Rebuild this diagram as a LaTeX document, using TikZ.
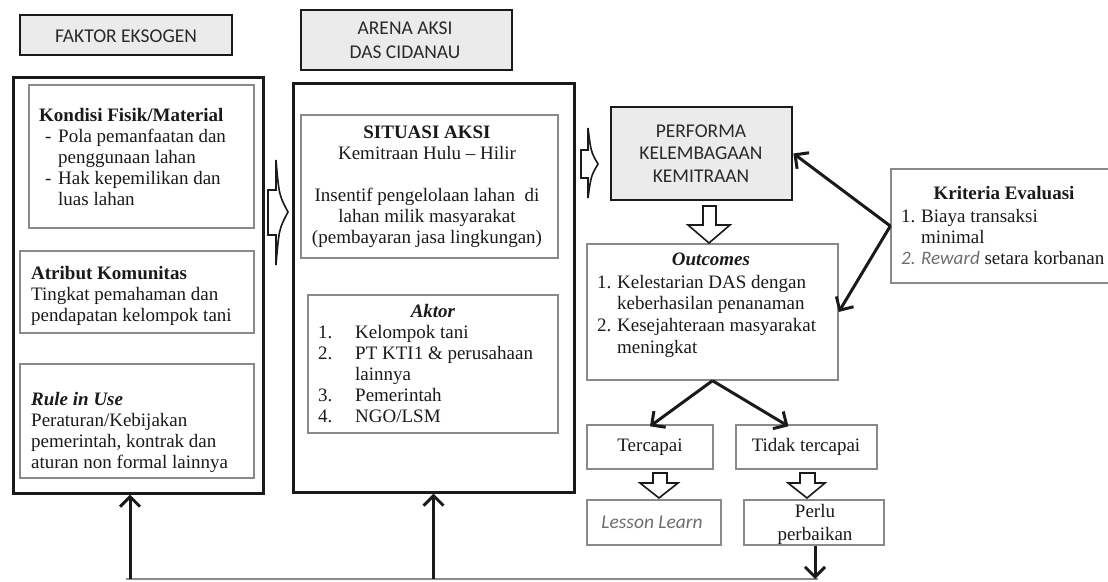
\documentclass[tikz,border=0pt]{standalone}
\usepackage{fontspec}
\setmainfont{Liberation Serif}
\newfontfamily\hdrfont{Carlito}
\usetikzlibrary{arrows.meta}
\definecolor{ink}{HTML}{1A1A1A}
\definecolor{hdrink}{HTML}{2A2A2A}
\definecolor{boxgray}{HTML}{8A8A8A}
\definecolor{hdrfill}{HTML}{EBEBEB}
\definecolor{softgray}{HTML}{6E6E6E}
\begin{document}
\begin{tikzpicture}[x=1pt,y=-1pt,
  outerbox/.style={draw=ink, line width=3pt, inner sep=0pt},
  innerbox/.style={draw=boxgray, line width=1.4pt, inner sep=0pt},
  hdrbox/.style={draw=ink, line width=2.8pt, fill=hdrfill, inner sep=0pt},
  flowbox/.style={draw=boxgray, line width=1.4pt, fill=white, inner sep=0pt},
  body/.style={font=\fontsize{19}{21}\selectfont, text=ink, inner sep=0pt, align=left, anchor=north west},
  bodyc/.style={font=\fontsize{19}{21}\selectfont, text=ink, inner sep=0pt, align=center},
  hdrtext/.style={font=\hdrfont\fontsize{19.5}{23.5}\selectfont, text=hdrink, align=center, inner sep=0pt},
  thk/.style={draw=ink, line width=3pt, -{Straight Barb[length=10pt,width=20pt]}},
  hollow/.style={draw=ink, line width=1.6pt, fill=white, line join=miter},
  fbline/.style={draw=boxgray, line width=1.2pt}]
\clip (0,0) rectangle (1108,581);
\fill[white] (0,0) rectangle (1108,581);

% ---------- headers ----------
\node[hdrbox, minimum width=212pt, minimum height=40pt] (hdrL) at (126,35) {};
\node[hdrtext] (hdrLT) at (126,36) {FAKTOR EKSOGEN};
\node[hdrbox, minimum width=211pt, minimum height=60pt] (hdrM) at (406.5,40) {};
\node[hdrtext] (hdrMT) at (405,40) {ARENA AKSI\\DAS CIDANAU};

% ---------- left column ----------
\node[outerbox, minimum width=250pt, minimum height=416pt] (outerL) at (138,285) {};
\node[innerbox, minimum width=225pt, minimum height=143pt] (kondisi) at (141.5,156.5) {};
\node[body] (kondisiT) at (39,108) {\textbf{Kondisi Fisik/Material}\\
\makebox[19pt][l]{\hspace{6pt}-}Pola pemanfaatan dan\\
\hspace*{19pt}penggunaan lahan\\
\makebox[19pt][l]{\hspace{6pt}-}Hak kepemilikan dan\\
\hspace*{19pt}luas lahan};
\node[innerbox, minimum width=234pt, minimum height=82pt] (atribut) at (137,292) {};
\node[body] (atributT) at (31,266) {\textbf{Atribut Komunitas}\\
Tingkat pemahaman dan\\
pendapatan kelompok tani};
\node[innerbox, minimum width=234pt, minimum height=114pt] (rule) at (137,421) {};
\node[body] (ruleT) at (31,392) {\textbf{\textit{Rule in Use}}\\
Peraturan/Kebijakan\\
pemerintah, kontrak dan\\
aturan non formal lainnya};

% ---------- middle column ----------
\node[outerbox, minimum width=281pt, minimum height=409pt] (outerM) at (433.5,287.5) {};
\node[innerbox, minimum width=257pt, minimum height=143pt] (situasi) at (429.5,186.5) {};
\node[bodyc, anchor=north] (situasiT) at (427,126) {\textbf{SITUASI AKSI}\\
Kemitraan Hulu -- Hilir\\[21pt]
Insentif pengelolaan lahan \ di\\
lahan milik masyarakat\\
(pembayaran jasa lingkungan)};
\node[innerbox, minimum width=250pt, minimum height=138pt] (aktor) at (433,364) {};
\node[bodyc, anchor=north] (aktorH) at (433,304) {\textbf{\textit{Aktor}}};
\node[body] (aktorT) at (318,325) {\makebox[37pt][l]{1.}Kelompok tani\\
\makebox[37pt][l]{2.}PT KTI1 \& perusahaan\\
\hspace*{37pt}lainnya\\
\makebox[37pt][l]{3.}Pemerintah\\
\makebox[37pt][l]{4.}NGO/LSM};

% ---------- right column ----------
\node[hdrbox, fill=hdrfill, minimum width=181pt, minimum height=93pt] (perf) at (701.5,153.5) {};
\node[hdrtext, font=\hdrfont\fontsize{19.5}{22.5}\selectfont] (perfT) at (701,153.5) {PERFORMA\\KELEMBAGAAN\\KEMITRAAN};

\node[flowbox, minimum width=251pt, minimum height=136pt] (outc) at (712.5,312) {};
\node[bodyc, anchor=north] (outcH) at (711,253) {\textbf{\textit{Outcomes}}};
\node[body, font=\fontsize{19}{21.6}\selectfont] (outcT) at (597,275) {\makebox[20pt][l]{1.}Kelestarian DAS dengan\\
\hspace*{20pt}keberhasilan penanaman\\
\makebox[20pt][l]{2.}Kesejahteraan masyarakat\\
\hspace*{20pt}meningkat};

\node[flowbox, minimum width=226pt, minimum height=114pt] (krit) at (1004,226) {};
\node[bodyc, anchor=north] (kritH) at (1004,186) {\textbf{Kriteria Evaluasi}};
\node[body] (kritT) at (901,209) {\makebox[20pt][l]{1.}Biaya transaksi\\
\hspace*{20pt}minimal\\
{\color{softgray}\hdrfont\itshape\makebox[20pt][l]{2.}Reward} setara korbanan};

\node[flowbox, minimum width=126pt, minimum height=44pt] (terc) at (650,447) {};
\node[bodyc] (tercT) at (650,447) {Tercapai};
\node[flowbox, minimum width=141pt, minimum height=44pt] (tidak) at (806.5,447) {};
\node[bodyc] (tidakT) at (806,447) {Tidak tercapai};
\node[flowbox, minimum width=134pt, minimum height=45pt] (lesson) at (654,522.5) {};
\node[hdrtext, font=\hdrfont\itshape\fontsize{19.5}{22}\selectfont, text=softgray] (lessonT) at (652,522) {Lesson Learn};
\node[flowbox, minimum width=140pt, minimum height=45pt] (perlu) at (814,522.5) {};
\node[bodyc, font=\fontsize{19}{23}\selectfont] (perluT) at (815,524) {Perlu\\perbaikan};

% ---------- hollow block arrows ----------
\draw[hollow] (268,190) -- (276,190) -- (276,160) .. controls (279,195) .. (288,212)
  .. controls (279,229) .. (276,265) -- (276,235) -- (268,235) -- cycle;
\draw[hollow] (581,150) -- (588,150) -- (588,128) .. controls (591,152) .. (598,164)
  .. controls (591,176) .. (588,198) -- (588,178) -- (581,178) -- cycle;
\draw[hollow] (703,206) -- (716,206) -- (716,225) -- (730,225) -- (709,243) -- (688,225) -- (703,225) -- cycle;
\draw[hollow] (653,473) -- (667,473) -- (667,483) -- (678,483) -- (659,498) -- (640,483) -- (653,483) -- cycle;
\draw[hollow] (800,473) -- (815,473) -- (815,483) -- (825,483) -- (807,498) -- (788,483) -- (800,483) -- cycle;

% ---------- connectors ----------
\draw[thk] (krit.west) -- (perf.east);
\draw[thk] (krit.west) -- (outc.east);
\draw[thk] (outc.south) -- ([yshift=-2pt]terc.north);
\draw[thk] (outc.south) -- ([xshift=-18pt,yshift=-2pt]tidak.north);

\coordinate (fbL) at (130,579);
\coordinate (fbM) at (433.5,579);
\coordinate (fbR) at (815,579);
\draw[fbline] ([xshift=-4pt]fbL) -- ([xshift=3pt]fbR);
\draw[thk] (fbR |- perlu.south) -- (fbR);
\draw[thk] (fbL) -- (fbL |- outerL.south);
\draw[thk] (fbM) -- (fbM |- outerM.south);
\end{tikzpicture}
\end{document}
